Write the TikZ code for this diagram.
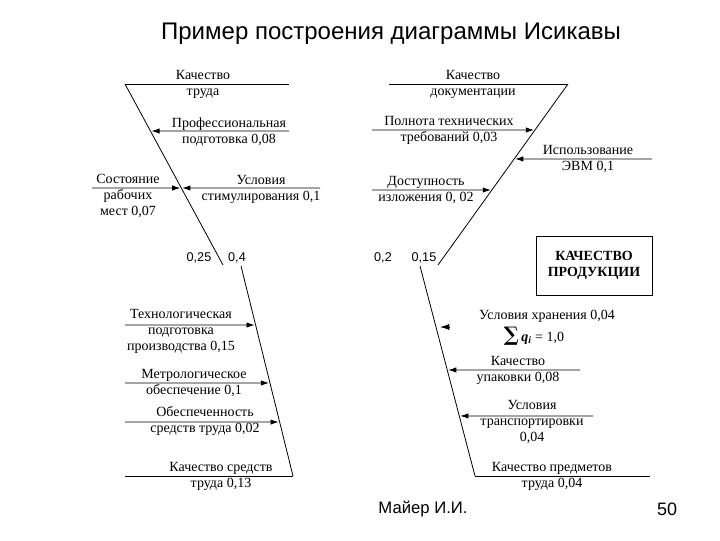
\documentclass[tikz,border=0pt]{standalone}
\usepackage{fontspec}
\setmainfont{Liberation Serif}
\newfontfamily\sansf{Liberation Sans}
\newfontfamily\dvserif{DejaVu Serif}
\usetikzlibrary{arrows.meta,calc}
\begin{document}
\begin{tikzpicture}[x=0.75pt,y=-0.75pt,
  bone/.style={line width=0.6pt},
  arr/.style={line width=0.6pt,-{Latex[length=6pt,width=4pt]},shorten >=0.8pt},
  lbl/.style={align=center,inner sep=0pt,font=\fontsize{10.5}{12}\selectfont},
  num/.style={inner sep=0pt,font=\sansf\fontsize{9.5}{11}\selectfont},
  boxed/.style={draw,line width=0.6pt,minimum width=87pt,minimum height=44.25pt,align=center,inner sep=0pt,font=\bfseries\fontsize{10.5}{11.5}\selectfont}]
\useasboundingbox (0,0) rectangle (720,540);
\fill[white] (0,0) rectangle (720,540);

% title and footer
\node[inner sep=0pt,font=\sansf\fontsize{18}{20}\selectfont] (title) at (391,34) {Пример построения диаграммы Исикавы};
\node[inner sep=0pt,font=\sansf\fontsize{12.5}{14}\selectfont] (author) at (423,509) {Майер И.И.};
\node[inner sep=0pt,font=\sansf\fontsize{13.5}{15}\selectfont] (page) at (667,509) {50};

% bones
\coordinate (tlA) at (125,84);  \coordinate (tlB) at (223,265);
\coordinate (trA) at (568,84);  \coordinate (trB) at (438,265);
\coordinate (blA) at (241,266); \coordinate (blB) at (293,476);
\coordinate (brA) at (420,266); \coordinate (brB) at (475,476);
\draw[bone] (tlA) -- (tlB);
\draw[bone] (trA) -- (trB);
\draw[bone] (blA) -- (blB);
\draw[bone] (brA) -- (brB);

% top-left
\coordinate (tl0e) at (289,84);
\draw[bone] (tlA) -- (tl0e);
\coordinate (tl1) at ($(tlA)!0.2597!(tlB)$); \coordinate (tl1e) at (289,131);
\draw[arr] (tl1e) -- (tl1);
\coordinate (tl2) at ($(tlA)!0.5746!(tlB)$); \coordinate (tl2e) at (320,188);
\draw[arr] (tl2e) -- (tl2);
\coordinate (tl3e) at (92,188);
\draw[arr] (tl3e) -- (tl2);
\node[lbl] (l1) at (203,84.5) {Качество\\труда};
\node[lbl] (l2) at (229,131.5) {Профессиональная\\подготовка 0,08};
\node[lbl] (l3) at (261,189.5) {Условия\\стимулирования 0,1};
\node[lbl] (l4) at (128,196) {Состояние\\рабочих\\мест 0,07};
\node[num] (n1) at (199,258) {0,25};
\node[num] (n2) at (237,258) {0,4};

% top-right
\coordinate (tr0e) at (389,84);
\draw[bone] (tr0e) -- (trA);
\coordinate (tr1) at ($(trA)!0.254!(trB)$); \coordinate (tr1e) at (372,130);
\draw[arr] (tr1e) -- (tr1);
\coordinate (tr2) at ($(trA)!0.414!(trB)$); \coordinate (tr2e) at (652,159);
\draw[arr] (tr2e) -- (tr2);
\coordinate (tr3) at ($(trA)!0.5856!(trB)$); \coordinate (tr3e) at (372,190);
\draw[arr] (tr3e) -- (tr3);
\node[lbl] (r1) at (473,84.5) {Качество\\документации};
\node[lbl] (r2) at (449,130) {Полнота технических\\требований 0,03};
\node[lbl] (r3) at (588,158.5) {Использование\\ЭВМ 0,1};
\node[lbl] (r4) at (426,189.5) {Доступность\\изложения 0, 02};
\node[num] (n3) at (383,258) {0,2};
\node[num] (n4) at (424,258) {0,15};
\node[boxed] (result) at (594,265.5) {КАЧЕСТВО\\ПРОДУКЦИИ};

% bottom-left
\coordinate (bl1) at ($(blA)!0.281!(blB)$); \coordinate (bl1e) at (125,325);
\draw[arr] (bl1e) -- (bl1);
\coordinate (bl2) at ($(blA)!0.557!(blB)$); \coordinate (bl2e) at (125,383);
\draw[arr] (bl2e) -- (bl2);
\coordinate (bl3) at ($(blA)!0.743!(blB)$); \coordinate (bl3e) at (125,422);
\draw[arr] (bl3e) -- (bl3);
\coordinate (bl4e) at (125,476);
\draw[bone] (bl4e) -- (blB);
\node[lbl] (b1) at (181,331.5) {Технологическая\\подготовка\\производства 0,15};
\node[lbl] (b2) at (194,382.5) {Метрологическое\\обеспечение 0,1};
\node[lbl] (b3) at (205,421) {Обеспеченность\\средств труда 0,02};
\node[lbl] (b4) at (221,476.5) {Качество средств\\труда 0,13};

% bottom-right
\coordinate (br0) at (440,327); \coordinate (br0e) at (450,327);
\draw[line width=0.6pt,-{Latex[length=7pt,width=4.5pt]}] (br0e) -- (br0);
\coordinate (br1) at ($(brA)!0.495!(brB)$); \coordinate (br1e) at (580,370);
\draw[arr] (br1e) -- (br1);
\coordinate (br2) at ($(brA)!0.714!(brB)$); \coordinate (br2e) at (593,416);
\draw[arr] (br2e) -- (br2);
\coordinate (br3e) at (650,476);
\draw[bone] (brB) -- (br3e);
\node[lbl] (c1) at (547,316) {Условия хранения 0,04};
\node[lbl,anchor=base] (sum) at (534,341) {{\dvserif\bfseries\fontsize{15}{15}\selectfont ∑}\,\textbf{\textit{q}}\textsubscript{\textbf{\textit{i}}} = 1,0};
\node[lbl] (c2) at (518,370) {Качество\\упаковки 0,08};
\node[lbl] (c3) at (532,422) {Условия\\транспортировки\\0,04};
\node[lbl] (c4) at (552,476) {Качество предметов\\труда 0,04};
\end{tikzpicture}
\end{document}
